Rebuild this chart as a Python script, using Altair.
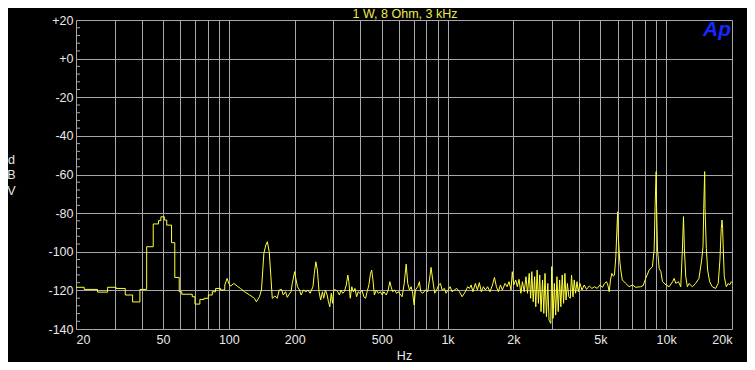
import altair as alt
import pandas as pd

# ---- data (Hz, dBV) ----
# low-frequency FFT bins (drawn as steps)
step_freq = [20, 21.8, 25.1, 27.9, 30.5, 33.6, 36.3, 39.2, 42.1, 45.1, 47.7, 48.9, 50.7, 52.0,
             54.7, 56.6, 59.3, 60.9, 68.0, 70.0, 73.7, 77.0, 80.6, 84.0, 87.0, 91.6, 95.8]
step_db = [-118.4, -119.5, -120.9, -118.4, -119.0, -122.4, -126.0, -119.5, -97.4, -85.6, -83.9, -81.9, -83.6, -86.2,
           -95.3, -113.3, -120.7, -122.0, -123.3, -127.1, -124.7, -124.1, -122.4, -120.7, -119.0, -119.8, -117.2]

# 96 Hz .. 600 Hz
freq_a = [95.8, 98.2, 100, 101.8, 105.4, 109.2, 113, 118, 124.5, 131,
          133.6, 138, 141, 144.6, 147.7, 150, 153, 155.7, 158, 162.5,
          166.4, 170, 174.3, 177.3, 181.8, 185, 189, 192.5, 195, 200,
          202.4, 206, 210.5, 214, 219.5, 225, 230, 235.5, 242.5, 246,
          250, 254, 258.5, 263, 268, 271.5, 276.5, 281.5, 285.5, 289.5,
          294, 298, 302, 308.5, 315, 320.5, 326, 331.5, 337.5, 344.5,
          350, 354, 359, 365, 371, 377.5, 384, 390.5, 397.5, 406,
          414.5, 422, 429, 437, 444.5, 450, 456, 463, 472.5, 482.5,
          493, 503, 512, 524.5, 535.5, 545, 552, 561, 573, 585,
          597]
db_a = [-117.2, -113.8, -116.4, -117.8, -116.4, -117.8, -119.0, -120.7, -122.4, -124.1,
        -125.9, -123.3, -119.8, -100.8, -96.5, -94.8, -100.0, -112.9, -124.1, -122.9,
        -124.1, -119.8, -119.5, -122.4, -120.7, -123.6, -121.9, -120.7, -116.4, -110.3,
        -113.8, -118.1, -119.8, -122.4, -119.8, -120.7, -119.8, -121.5, -118.1, -111.2,
        -105.2, -109.5, -120.7, -125.0, -120.7, -124.1, -119.8, -122.4, -125.9, -128.5,
        -121.5, -126.7, -119.8, -119.8, -120.7, -122.4, -119.8, -121.5, -120.7, -117.2,
        -112.1, -115.5, -124.1, -118.1, -120.7, -119.0, -123.3, -120.7, -121.5, -119.8,
        -123.3, -124.1, -120.7, -117.2, -111.2, -109.5, -114.6, -122.4, -119.8, -121.5,
        -120.7, -122.4, -120.7, -122.4, -119.8, -115.5, -118.1, -120.7, -119.8, -121.5,
        -120.7]

# 600 Hz .. 3.6 kHz
freq_b = [603, 620, 634, 647, 658, 670, 682, 693, 704, 713,
          731, 744, 754, 771, 793, 812, 827, 841, 856, 874,
          892, 912, 928, 945, 968, 985, 1006, 1028, 1049, 1075,
          1102, 1134, 1166, 1195, 1217, 1237, 1260, 1283, 1306, 1341,
          1370, 1398, 1428, 1459, 1489, 1526, 1564, 1606, 1639, 1674,
          1709, 1746, 1782, 1833, 1872, 1912, 1952, 1978, 2008, 2050,
          2086, 2123, 2165, 2201, 2243, 2285, 2322, 2364, 2400, 2430,
          2466, 2502, 2533, 2569, 2605, 2641, 2677, 2720, 2756, 2792,
          2834, 2876, 2912, 2967, 2997, 3039, 3081, 3124, 3166, 3208,
          3256, 3298, 3347, 3395, 3443, 3485, 3534, 3588]
db_b = [-121.5, -123.3, -116.4, -106.4, -116.4, -119.8, -118.1, -121.5, -127.6, -119.8,
        -118.1, -115.5, -120.7, -121.5, -119.8, -120.7, -114.6, -108.1, -114.6, -121.5,
        -119.8, -117.2, -116.4, -119.8, -119.0, -121.5, -119.8, -118.1, -120.7, -119.8,
        -119.0, -120.7, -123.3, -121.5, -119.8, -118.1, -119.0, -117.2, -120.7, -116.4,
        -119.8, -116.0, -120.7, -118.1, -119.8, -118.1, -120.7, -117.2, -113.3, -118.1,
        -120.7, -117.2, -119.8, -116.4, -118.1, -115.5, -119.8, -110.3, -117.2, -114.6,
        -118.1, -114.3, -121.5, -115.5, -120.7, -112.9, -121.5, -111.2, -124.1, -110.3,
        -125.9, -112.9, -128.5, -109.5, -126.7, -112.0, -131.0, -114.6, -131.9, -111.2,
        -133.6, -116.4, -135.4, -137.1, -107.7, -134.5, -116.4, -132.8, -112.9, -131.0,
        -114.6, -128.5, -112.0, -126.7, -111.2, -125.0, -116.4, -123.3]

# 3.6 kHz .. 7.9 kHz
freq_c = [3643, 3692, 3747, 3799, 3851, 3909, 3964, 4032, 4120, 4220,
          4324, 4448, 4574, 4700, 4837, 4976, 5116, 5226, 5336, 5411,
          5489, 5563, 5641, 5726, 5800, 5885, 6000, 6040, 6130, 6200,
          6300, 6530, 6770, 7010, 7260, 7650, 7850]
db_c = [-124.1, -112.1, -123.3, -114.6, -121.5, -115.5, -120.7, -116.4, -119.8, -117.2,
        -119.5, -117.7, -119.0, -118.1, -119.0, -117.2, -118.4, -116.4, -115.5, -117.2,
        -120.7, -114.6, -111.2, -112.6, -112.1, -102.6, -79.3, -92.2, -104.3, -109.5,
        -114.6, -116.4, -118.1, -117.2, -118.4, -118.1, -117.5]

# 8 kHz .. 20 kHz
freq_d = [8060, 8360, 8650, 8810, 8900, 9000, 9040, 9130, 9290, 9460,
          9620, 9980, 10320, 10700, 10880, 11070, 11380, 11660, 11860, 12000,
          12120, 12290, 12500, 12720, 13170, 13640, 14120, 14530, 14740, 14850,
          15000, 15060, 15260, 15480, 15800, 16250, 16830, 17300, 17610, 17860,
          18000, 18120, 18250, 18440, 18830, 19230, 19510, 19850, 20000]
db_d = [-113.8, -109.5, -107.7, -99.1, -76.7, -58.5, -76.7, -99.1, -108.6, -110.3,
        -115.5, -117.2, -118.1, -115.5, -113.8, -116.4, -115.5, -118.1, -99.1, -81.8,
        -99.1, -112.9, -118.1, -116.4, -118.1, -116.4, -113.8, -104.3, -97.4, -77.5,
        -58.5, -77.5, -98.2, -109.5, -115.5, -118.1, -119.0, -116.4, -104.3, -87.9,
        -83.6, -87.9, -99.1, -112.9, -118.1, -116.4, -117.2, -115.5, -116.0]

# axis values
grid_hz = [20, 30, 40, 50, 60, 70, 80, 90, 100, 200, 300, 400, 500, 600, 700, 800, 900,
           1000, 2000, 3000, 4000, 5000, 6000, 7000, 8000, 9000, 10000, 20000]
label_hz = [20, 50, 100, 200, 500, 1000, 2000, 5000, 10000, 20000]
db_major = [-140, -120, -100, -80, -60, -40, -20, 0, 20]
db_minor = [16, 12, 8, 4, -4, -8, -12, -16, -24, -28, -32, -36, -44, -48, -52, -56,
            -64, -68, -72, -76, -84, -88, -92, -96, -104, -108, -112, -116,
            -124, -128, -132, -136]

title_text = ["1 W, 8 Ohm, 3 kHz"]
logo_text = ["Ap"]

FONT = "Liberation Sans"
GRID = "#a8a8a8"
TEXT = "#e8e8e8"
YELLOW = "#ffff3a"

x_scale = alt.Scale(type="log", domain=[20, 20000], nice=False)
y_scale = alt.Scale(domain=[-140, 20], nice=False, zero=False)

lbl = ",".join(str(v) for v in label_hz)
x_expr = ("indexof([" + lbl + "], datum.value) >= 0 ? "
          "(datum.value >= 1000 ? (datum.value / 1000) + 'k' : '' + datum.value) : ''")

x_axis = alt.Axis(values=grid_hz, labelExpr=x_expr, title="Hz", grid=True, ticks=False,
                  domain=False, labelOverlap=False, labelFlush=True, labelPadding=4,
                  titleY=26, titleBaseline="middle")
y_axis = alt.Axis(values=db_major, labelExpr="datum.value >= 0 ? '+' + datum.value : '' + datum.value",
                  title=["d", "B", "V"], grid=True, ticks=False, domain=False, labelPadding=3,
                  titleAngle=0, titleX=-65, titleY=139, titleAlign="center",
                  titleBaseline="middle", titleLineHeight=15.5)

X = alt.X("hz:Q", scale=x_scale, axis=x_axis)
Y = alt.Y("db:Q", scale=y_scale, axis=y_axis)

lo = pd.DataFrame({"hz": step_freq, "db": step_db})
hi = pd.DataFrame({"hz": freq_a + freq_b + freq_c + freq_d, "db": db_a + db_b + db_c + db_d})

ticks = alt.Chart(pd.DataFrame({"db": db_minor})).mark_tick(
    orient="horizontal", color=GRID, thickness=1, size=4, opacity=1
).encode(y=Y, x=alt.value(2))

steps = alt.Chart(lo).mark_line(interpolate="step-after", color=YELLOW, strokeWidth=1).encode(x=X, y=Y)

spectrum = alt.Chart(hi).mark_line(color=YELLOW, strokeWidth=1).encode(x=X, y=Y)

logo = alt.Chart(pd.DataFrame({"t": logo_text})).mark_text(
    align="right", baseline="alphabetic", font=FONT, fontSize=21, fontStyle="italic",
    fontWeight="bold", color="#1428ff"
).encode(text="t:N", x=alt.value(655), y=alt.value(16))

heading = alt.Chart(pd.DataFrame({"t": title_text})).mark_text(
    align="center", baseline="middle", font=FONT, fontSize=12.5, color="#ecec4a"
).encode(text="t:N", x=alt.value(329), y=alt.value(-6))

chart = alt.layer(ticks, steps, spectrum, logo, heading).properties(
    width=656,
    height=309,
    autosize=alt.AutoSizeParams(type="none"),
    padding={"left": 68, "top": 12, "right": 15, "bottom": 33},
    background="#000000",
).configure_view(stroke=None).configure_axis(
    gridColor=GRID, gridOpacity=1, gridWidth=1,
    labelFont=FONT, labelFontSize=12.5, labelColor=TEXT,
    titleFont=FONT, titleFontSize=12.5, titleColor=TEXT, titleFontWeight="normal",
)

chart.save("out.html", embed_options={"renderer": "svg", "actions": False})
